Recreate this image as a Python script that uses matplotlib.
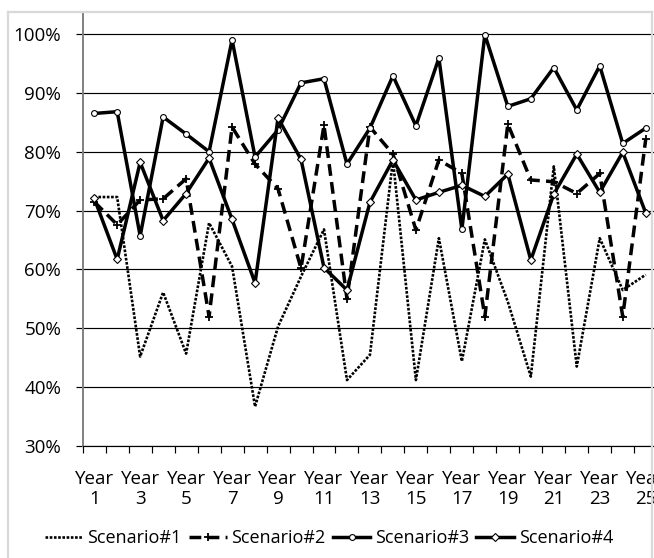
import matplotlib
matplotlib.use("Agg")
import matplotlib.pyplot as plt
from matplotlib.lines import Line2D
import numpy as np

plt.rcParams['font.family'] = ['Open Sans', 'DejaVu Sans']

years = list(range(1, 26))
year_labels = [f"Year\n{y}" if y % 2 == 1 else "" for y in years]

scenario1 = [72.3, 72.3, 45.2, 56.1, 45.7, 67.9, 60.5, 36.7, 50.3, 58.8,
             66.8, 41.2, 45.5, 78.6, 41.2, 65.3, 44.4, 65.1, 54.5, 41.8,
             77.5, 43.5, 65.3, 56.5, 59.1]
scenario2 = [71.5, 67.6, 71.8, 72.0, 75.4, 52.0, 84.2, 77.9, 73.7, 60.2,
             84.5, 55.0, 84.2, 79.6, 66.7, 78.6, 76.3, 52.0, 84.7, 75.2,
             74.9, 72.9, 76.3, 52.0, 82.1]
scenario3 = [86.5, 86.8, 65.7, 85.9, 83.0, 80.0, 99.0, 79.1, 83.7, 91.7,
             92.4, 77.9, 84.0, 92.9, 84.4, 95.9, 66.8, 99.9, 87.7, 89.0,
             94.3, 87.1, 94.6, 81.4, 84.0]
scenario4 = [72.1, 61.7, 78.2, 68.3, 72.9, 78.9, 68.5, 57.7, 85.7, 78.7,
             60.3, 56.5, 71.4, 78.6, 71.8, 73.1, 74.3, 72.4, 76.2, 61.6,
             72.8, 79.6, 73.1, 79.9, 69.6]
series_names = ["Scenario#1", "Scenario#2", "Scenario#3", "Scenario#4"]
y_ticks = [30, 40, 50, 60, 70, 80, 90, 100]

W, H = 654, 558
fig = plt.figure(figsize=(W / 100, H / 100), dpi=100)
fig.patch.set_facecolor("white")

left, right, bottom, top = 82.7, 657.2, 446.0, 12.0
ax = fig.add_axes([left / W, 1 - bottom / H, (right - left) / W, (bottom - top) / H])
ax.set_xlim(0.5, 25.5)
ax.set_ylim(30, 100 + (34 - 12) / 5.886)

ax.set_yticks(y_ticks)
ax.set_yticklabels([f"{v}%" for v in y_ticks], fontsize=13.5)
ax.yaxis.grid(True, color="black", linewidth=0.85)
ax.set_axisbelow(True)
ax.tick_params(axis="y", length=5, width=0.85, color="black", pad=10.5)

# Category labels in the middle of each slot, tick marks on slot boundaries
ax.set_xticks(years)
ax.set_xticklabels(year_labels, fontsize=13.5, linespacing=1.2)
ax.tick_params(axis="x", which="major", length=0, pad=17)
ax.set_xticks(np.arange(0.5, 26, 1.0), minor=True)
ax.tick_params(axis="x", which="minor", length=5, width=0.85, color="black", direction="out")

for s in ("top", "right"):
    ax.spines[s].set_visible(False)
ax.spines["left"].set_color("#808080")
ax.spines["left"].set_linewidth(1.4)
ax.spines["bottom"].set_color("black")
ax.spines["bottom"].set_linewidth(0.85)

lw = 2.5
ax.plot(years, scenario1, color="black", linewidth=1.9,
        linestyle=(0, (1, 0.6)), label=series_names[0], zorder=3)
ax.plot(years, scenario2, color="black", linewidth=lw,
        linestyle=(0, (3.4, 1.8)), marker="+", markersize=6, markeredgewidth=1.3,
        label=series_names[1], zorder=4)
ax.plot(years, scenario3, color="black", linewidth=lw, marker="o",
        markersize=4.2, markerfacecolor="white", markeredgecolor="black",
        markeredgewidth=0.8, label=series_names[2], zorder=5)
ax.plot(years, scenario4, color="black", linewidth=lw, marker="D",
        markersize=3.6, markerfacecolor="white", markeredgecolor="black",
        markeredgewidth=0.8, label=series_names[3], zorder=6)

fig.legend(loc="center", bbox_to_anchor=(329 / W, 1 - 538 / H), ncol=4,
           frameon=False, fontsize=13, handlelength=2.1, handletextpad=0.25,
           columnspacing=0.4, borderaxespad=0)

# Light frame around the chart area
frame_kw = dict(color="#d9d9d9", linewidth=1.6, transform=fig.transFigure, zorder=20)
fig.add_artist(Line2D([7.5 / W, 7.5 / W], [0, 1 - 11.5 / H], **frame_kw))
fig.add_artist(Line2D([7.5 / W, 652 / W], [1 - 11.5 / H, 1 - 11.5 / H], **frame_kw))
fig.add_artist(Line2D([652 / W, 652 / W], [0, 1 - 11.5 / H], **frame_kw))

fig.savefig("out.png", dpi=100, facecolor="white")
